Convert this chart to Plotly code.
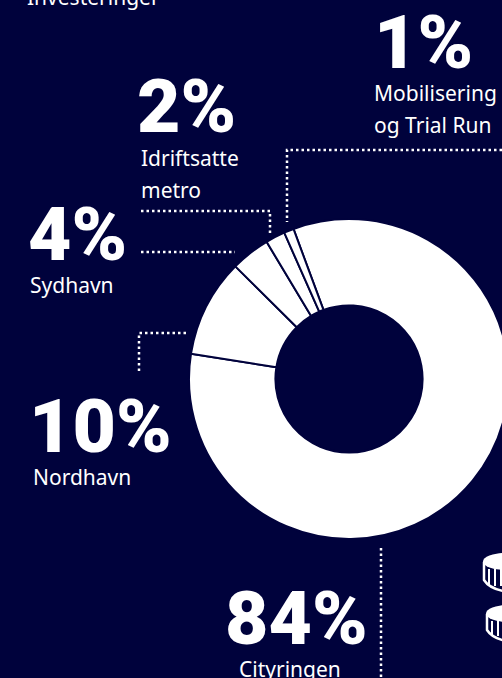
import plotly.graph_objects as go

categories = ["Cityringen", "Nordhavn", "Sydhavn", "Idriftsatte metro", "Mobilisering og Trial Run"]
values = [84, 10, 4, 2, 1]
percent_labels = ["84%", "10%", "4%", "2%", "1%"]

W, H = 520, 678
BG = "#00023c"
FG = "#ffffff"
BIG = "Roboto"
SMALL = "Noto Sans"

def px(x): return x / W
def py(y): return 1 - y / H

fig = go.Figure(go.Pie(
    labels=categories, values=values, sort=False, direction="clockwise",
    rotation=-20.3, hole=0.46, textinfo="none", hoverinfo="label+percent",
    marker=dict(colors=[FG] * 5, line=dict(color=BG, width=2)),
    domain=dict(x=[189 / W, 509 / W], y=[1 - 539 / H, 1 - 219 / H]),
    showlegend=False,
))

def text(x, y, s, size, weight=400, family=SMALL):
    fig.add_annotation(x=px(x), y=py(y), xref="paper", yref="paper", text=s, showarrow=False,
                       xanchor="left", yanchor="middle", align="left",
                       font=dict(family=family, size=size, color=FG, weight=weight))

big = [(372, 42, percent_labels[4]), (135, 106, percent_labels[3]), (26, 234, percent_labels[2]),
       (27, 426, percent_labels[1]), (223, 618, percent_labels[0])]
for x, y, s in big:
    text(x, y, s, 75, 900, BIG)

small = [(25, -3, "Investeringer"), (372, 93, "Mobilisering"), (372, 125, "og Trial Run"),
         (139, 158, "Idriftsatte"), (139, 190, "metro"), (28, 285, "Sydhavn"),
         (31, 477, "Nordhavn"), (237, 669, "Cityringen")]
for x, y, s in small:
    text(x, y, s, 21)

leaders = [
    [(141, 211), (270, 211), (270, 234)],
    [(502, 150), (287, 150), (287, 222)],
    [(141, 252), (235, 252)],
    [(139, 371), (139, 333), (187, 333)],
    [(381, 548), (381, 678)],
]
shapes = []
for pts in leaders:
    d = "M" + " L".join(f"{px(x)},{py(y)}" for x, y in pts)
    shapes.append(dict(type="path", xref="paper", yref="paper", path=d,
                       line=dict(color=FG, width=2.5, dash="2.5px,3px")))

# coin icons at the right edge
for x0, y0, y1 in [(483, 553, 591), (486, 605, 641)]:
    top = y0 + 17
    shapes.append(dict(type="circle", xref="paper", yref="paper", x0=px(x0), x1=px(x0 + 44),
                       y0=py(y0), y1=py(top), fillcolor=FG, line=dict(width=0)))
    d = (f"M{px(x0 + 1)},{py(top - 8)} L{px(x0 + 1)},{py(y1 - 11)} "
         f"Q{px(x0 + 6)},{py(y1 - 3)} {px(x0 + 20)},{py(y1)}")
    shapes.append(dict(type="path", xref="paper", yref="paper", path=d,
                       line=dict(color=FG, width=2.5)))
    for dx in (6, 12, 18):
        shapes.append(dict(type="line", xref="paper", yref="paper", x0=px(x0 + dx), x1=px(x0 + dx),
                           y0=py(top - 1), y1=py(y1 - 5), line=dict(color=FG, width=2)))

fig.update_layout(width=W, height=H, autosize=False, margin=dict(l=0, r=0, t=0, b=0),
                  paper_bgcolor=BG, plot_bgcolor=BG, shapes=shapes)

fig.write_html("out.html", config={"displayModeBar": False}, post_script=
    "document.documentElement.style.overflow='hidden';document.body.style.overflow='hidden';"
    "document.body.style.margin='0';document.body.style.background='#00023c';")
